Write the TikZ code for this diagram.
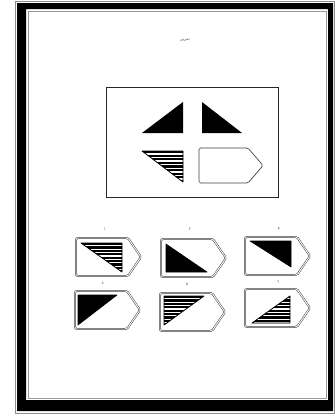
\documentclass[tikz,border=0pt]{standalone}
\usepackage{fontspec}
\newfontfamily\arabicfont[Script=Arabic]{DejaVu Sans}
\TeXXeTstate=1
\begin{document}
\begin{tikzpicture}[x=1pt,y=-1pt,
  tagline/.style={draw=black!75,line width=0.5pt,double=white,double distance=0.9pt,fill=white,rounded corners=1.5pt},
  solidtri/.style={fill=black,draw=black,line width=0.6pt,line join=round},
  stripetri/.style={draw=black,line width=0.8pt,line join=round},
  lab/.style={font=\arabicfont\fontsize{4}{4}\selectfont,text=black!70,inner sep=0pt}]
\useasboundingbox (0,0) rectangle (335,416);
\fill[white] (0,0) rectangle (335,416);
% frame
\draw[black!45,line width=0.6pt] (15,1) rectangle (334,413);
\fill[black,even odd rule] (17,3) rectangle (333,411) (26,9) rectangle (328,400);
\draw[black!40,line width=0.4pt] (28,11) rectangle (326,398);
% title
\node[font=\arabicfont\fontsize{4}{4}\selectfont,text=black!70] (title) at (185,40) {\beginR تمرین\endR};
% main box
\draw[black!85,line width=0.8pt] (106,87) rectangle (278,197);
\coordinate (tl) at (142,102);
\fill[black] (142,133) -- (183,133) -- (183,102) -- cycle;
\fill[black] (202,102) -- (202,133) -- (242,133) -- cycle;
% striped bottom-left
\begin{scope}
\clip (142,151) -- (183,151) -- (183,182) -- cycle;
\foreach \k in {0,...,8} {\fill[black] (140,151+3.6*\k) rectangle (185,153.2+3.6*\k);}
\end{scope}
\draw[stripetri] (142,151) -- (183,151) -- (183,182) -- cycle;
% empty tag in main box
\draw[black!75,line width=0.7pt,rounded corners=1.5pt] (199,148) -- (248,148) -- (263,165.5) -- (248,183) -- (199,183) -- cycle;
% options
\newcommand\tagshape[2]{%
  \draw[tagline] (#1,#2) -- (#1+52,#2) -- (#1+65,#2+19) -- (#1+52,#2+38) -- (#1,#2+38) -- cycle;}
\tagshape{76}{238}
\tagshape{161}{239}
\tagshape{245}{237}
\tagshape{75}{291}
\tagshape{160}{293}
\tagshape{245}{289}
% labels
\node[lab] (l1) at (105,229) {١};
\node[lab] (l2) at (190,229) {٢};
\node[lab] (l3) at (279,229) {٣};
\node[lab] (l4) at (103,283) {٤};
\node[lab] (l5) at (187,284) {٥};
\node[lab] (l6) at (278,282) {٦};
% option 1 striped, right angle top-right
\begin{scope}
\clip (81,243) -- (122,243) -- (122,272) -- cycle;
\foreach \k in {0,...,8} {\fill[black] (79,243+3.4*\k) rectangle (124,245.1+3.4*\k);}
\end{scope}
\draw[stripetri] (81,243) -- (122,243) -- (122,272) -- cycle;
% option 2 black, right angle bottom-left
\fill[solidtri] (166,244) -- (166,272) -- (207,272) -- cycle;
% option 3 black, right angle top-right
\fill[solidtri] (250,241) -- (291,241) -- (291,267) -- cycle;
% option 4 black, right angle top-left
\fill[solidtri] (78,295) -- (117,295) -- (78,325) -- cycle;
% option 5 striped, right angle top-left
\begin{scope}
\clip (164,296) -- (204,296) -- (164,325) -- cycle;
\foreach \k in {0,...,8} {\fill[black] (162,296+3.4*\k) rectangle (206,298.1+3.4*\k);}
\end{scope}
\draw[stripetri] (164,296) -- (204,296) -- (164,325) -- cycle;
% option 6 striped, right angle bottom-right
\begin{scope}
\clip (252,323) -- (290,296) -- (290,323) -- cycle;
\foreach \k in {0,...,8} {\fill[black] (250,296+3.4*\k) rectangle (292,298.1+3.4*\k);}
\end{scope}
\draw[stripetri] (252,323) -- (290,296) -- (290,323) -- cycle;
\end{tikzpicture}
\end{document}
